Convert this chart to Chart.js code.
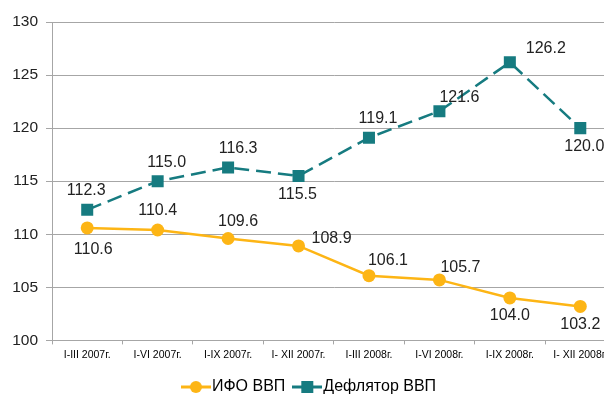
<!DOCTYPE html>
<html>
<head>
<meta charset="utf-8">
<script src="https://cdn.jsdelivr.net/npm/chart.js@4/dist/chart.umd.min.js"></script>
<style>
  html, body { margin: 0; padding: 0; background: #fff; overflow: hidden; }
  #wrap { width: 604px; height: 396px; overflow: hidden; }
</style>
</head>
<body>
<div id="wrap"><canvas id="chart" width="624" height="396"></canvas></div>
<script>
const categories = ['I-III 2007г.', 'I-VI 2007г.', 'I-IX 2007г.', 'I- XII 2007г.',
  'I-III 2008г.', 'I-VI 2008г.', 'I-IX 2008г.', 'I- XII 2008г.'];
const ifoValues = [110.6, 110.4, 109.6, 108.9, 106.1, 105.7, 104.0, 103.2];
const deflatorValues = [112.3, 115.0, 116.3, 115.5, 119.1, 121.6, 126.2, 120.0];
const yTicks = [100, 105, 110, 115, 120, 125, 130];

const ORANGE = '#FDB515';
const TEAL = '#167B80';
const FONT = 'Arial, "Liberation Sans", sans-serif';

// label offsets relative to each point (dx, dy)
const ifoLabelOffsets = [[6, 22], [0, -19], [10, -17], [33, -7], [19, -15], [21, -12], [0, 18], [0, 18]];
const deflLabelOffsets = [[-1, -19], [9, -19], [10, -19], [-1, 19], [9, -19], [20, -14], [36, -14], [4, 18]];

function legendIcon(color, style) {
  const c = document.createElement('canvas');
  c.width = 30; c.height = 14;
  const ctx = c.getContext('2d');
  ctx.strokeStyle = color;
  ctx.fillStyle = color;
  ctx.lineWidth = 3;
  ctx.beginPath();
  ctx.moveTo(0, 7); ctx.lineTo(30, 7);
  ctx.stroke();
  if (style === 'circle') {
    ctx.beginPath();
    ctx.arc(15, 7, 6, 0, Math.PI * 2);
    ctx.fill();
  } else {
    ctx.fillRect(9, 1, 12, 12);
  }
  return c;
}

const pointLabels = {
  id: 'pointLabels',
  afterDatasetsDraw(chart) {
    const ctx = chart.ctx;
    ctx.save();
    ctx.font = '16px ' + FONT;
    ctx.fillStyle = '#222';
    ctx.textAlign = 'center';
    ctx.textBaseline = 'middle';
    chart.data.datasets.forEach((ds, i) => {
      const meta = chart.getDatasetMeta(i);
      const offs = i === 0 ? ifoLabelOffsets : deflLabelOffsets;
      meta.data.forEach((pt, j) => {
        ctx.fillText(ds.data[j].toFixed(1), pt.x + offs[j][0], pt.y + offs[j][1]);
      });
    });
    ctx.restore();
  }
};

new Chart(document.getElementById('chart'), {
  type: 'line',
  data: {
    labels: categories,
    datasets: [
      {
        label: 'ИФО ВВП',
        data: ifoValues,
        borderColor: ORANGE,
        backgroundColor: ORANGE,
        borderWidth: 2.5,
        pointStyle: 'circle',
        pointRadius: 6.5,
        pointBorderWidth: 0,
        tension: 0
      },
      {
        label: 'Дефлятор ВВП',
        data: deflatorValues,
        borderColor: TEAL,
        backgroundColor: TEAL,
        borderWidth: 2.5,
        borderDash: [15, 7],
        pointStyle: 'rect',
        pointRadius: 8.5,
        pointBorderWidth: 0,
        tension: 0
      }
    ]
  },
  options: {
    responsive: false,
    animation: false,
    layout: { padding: { top: 22, left: 0, right: 0, bottom: -9 } },
    plugins: {
      tooltip: { enabled: false },
      legend: {
        position: 'bottom',
        labels: {
          usePointStyle: true,
          boxWidth: 30,
          color: '#111',
          font: { family: FONT, size: 16 },
          padding: 14,
          generateLabels: function (chart) {
            return chart.data.datasets.map((ds, i) => ({
              text: ds.label,
              pointStyle: legendIcon(ds.borderColor, i === 0 ? 'circle' : 'rect'),
              fillStyle: ds.borderColor,
              strokeStyle: ds.borderColor,
              lineWidth: 0,
              datasetIndex: i,
              hidden: false
            }));
          }
        }
      }
    },
    scales: {
      x: {
        offset: true,
        grid: { offset: true, drawOnChartArea: false, tickLength: 4, color: '#a6a6a6' },
        border: { color: '#a6a6a6', width: 1 },
        ticks: {
          color: '#000',
          font: { family: FONT, size: 10.5 },
          maxRotation: 0,
          autoSkip: false,
          padding: 4
        }
      },
      y: {
        min: 100,
        max: 130,
        afterFit: s => { s.width = 52; },
        afterBuildTicks: s => { s.ticks = yTicks.map(v => ({ value: v })); },
        grid: { color: '#a6a6a6', tickLength: 6 },
        border: { color: '#a6a6a6', width: 1 },
        ticks: {
          color: '#222',
          font: { family: FONT, size: 15.5 },
          padding: 8
        }
      }
    }
  },
  plugins: [pointLabels]
});
</script>
</body>
</html>
